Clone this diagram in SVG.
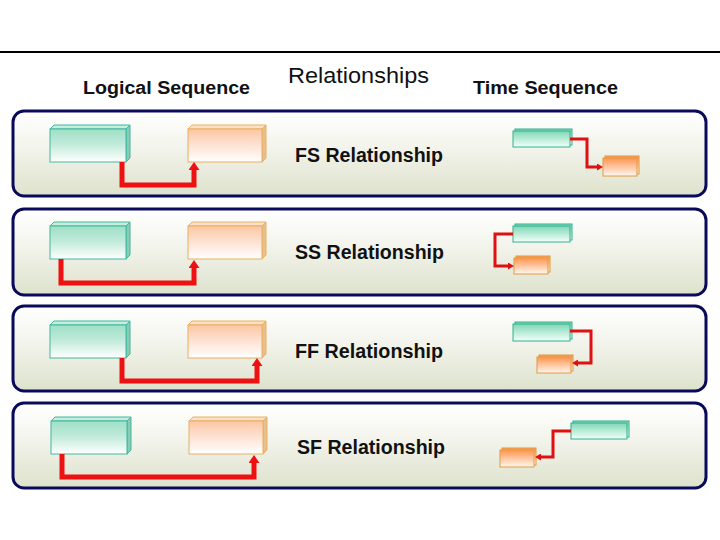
<svg xmlns="http://www.w3.org/2000/svg" width="720" height="540" viewBox="0 0 720 540">
<defs>
<linearGradient id="gPanel" x1="0" y1="0" x2="0" y2="1">
<stop offset="0" stop-color="#ffffff"/><stop offset="0.35" stop-color="#f6f6f0"/><stop offset="1" stop-color="#dde2cc"/>
</linearGradient>
<linearGradient id="gTeal" x1="0" y1="0" x2="0" y2="1">
<stop offset="0" stop-color="#9fe0c6"/><stop offset="0.45" stop-color="#bfeada"/><stop offset="1" stop-color="#ffffff"/>
</linearGradient>
<linearGradient id="gOrange" x1="0" y1="0" x2="0" y2="1">
<stop offset="0" stop-color="#fcc6a4"/><stop offset="0.45" stop-color="#fde0cf"/><stop offset="1" stop-color="#ffffff"/>
</linearGradient>
<linearGradient id="gTealS" x1="0" y1="0" x2="0" y2="1">
<stop offset="0" stop-color="#7fd8b6"/><stop offset="1" stop-color="#f4fffa"/>
</linearGradient>
<linearGradient id="gOrangeS" x1="0" y1="0" x2="0" y2="1">
<stop offset="0" stop-color="#ff9550"/><stop offset="1" stop-color="#fff8f0"/>
</linearGradient>
<marker id="arrBig" viewBox="0 0 8 11" refX="0" refY="5.5" markerWidth="8" markerHeight="11" markerUnits="userSpaceOnUse" orient="auto">
<path d="M0,0 L8,5.5 L0,11 z" fill="#ee1111"/>
</marker>
<marker id="arrSmall" viewBox="0 0 6 7" refX="0" refY="3.5" markerWidth="6" markerHeight="7" markerUnits="userSpaceOnUse" orient="auto">
<path d="M0,0 L6,3.5 L0,7 z" fill="#dd1111"/>
</marker>
</defs>
<style>
.panel{fill:url(#gPanel);stroke:#0a0a5a;stroke-width:3}
.hdr{font-family:"Liberation Sans",Arial,sans-serif;font-weight:bold;font-size:18px;fill:#111}
.rel{font-family:"Liberation Sans",Arial,sans-serif;font-size:22px;fill:#111}
.lbl{font-family:"Liberation Sans",Arial,sans-serif;font-weight:bold;font-size:20px;fill:#111}
.tF{fill:url(#gTeal);stroke:#40b8a0;stroke-width:1}
.tT{fill:#c4eedd;stroke:#40b8a0;stroke-width:1}
.tR{fill:#88ccb4;stroke:#40b8a0;stroke-width:1}
.oF{fill:url(#gOrange);stroke:#e8b060;stroke-width:1}
.oT{fill:#fde0c8;stroke:#e8b060;stroke-width:1}
.oR{fill:#e8c090;stroke:#e8b060;stroke-width:1}
.tsT{fill:url(#gTealS);stroke:#30b090;stroke-width:1}
.tsO{fill:url(#gOrangeS);stroke:#e09a40;stroke-width:1}
.big{fill:none;stroke:#ee1111;stroke-width:5;stroke-linejoin:miter;marker-end:url(#arrBig)}
.small{fill:none;stroke:#dd1111;stroke-width:3;stroke-linejoin:miter;marker-end:url(#arrSmall)}
</style>
<rect width="720" height="540" fill="#ffffff"/>
<line x1="0" y1="52" x2="720" y2="52" stroke="#000" stroke-width="2"/>

<g id="headers">
<text class="hdr" x="83" y="94" textLength="167" lengthAdjust="spacingAndGlyphs">Logical Sequence</text>
<text class="rel" x="288" y="83" textLength="141" lengthAdjust="spacingAndGlyphs">Relationships</text>
<text class="hdr" x="473" y="94" textLength="145" lengthAdjust="spacingAndGlyphs">Time Sequence</text>
</g>

<g id="panel-fs">
<rect class="panel" x="13" y="111" width="693" height="85" rx="11"/>
<text class="lbl" x="295" y="162" textLength="148" lengthAdjust="spacingAndGlyphs">FS Relationship</text>
</g>
<g id="panel-ss">
<rect class="panel" x="13" y="209" width="693" height="86" rx="11"/>
<text class="lbl" x="295" y="259" textLength="149" lengthAdjust="spacingAndGlyphs">SS Relationship</text>
</g>
<g id="panel-ff">
<rect class="panel" x="13" y="306" width="693" height="85" rx="11"/>
<text class="lbl" x="295" y="358" textLength="148" lengthAdjust="spacingAndGlyphs">FF Relationship</text>
</g>
<g id="panel-sf">
<rect class="panel" x="13" y="403" width="693" height="85" rx="11"/>
<text class="lbl" x="297" y="454" textLength="148" lengthAdjust="spacingAndGlyphs">SF Relationship</text>
</g>

<!-- logical boxes -->
<g id="fs-pred"><polygon class="tT" points="50,129 54,125 130,125 126,129"/><polygon class="tR" points="126,129 130,125 130,158 126,162"/><rect class="tF" x="50" y="129" width="76" height="33"/></g>
<g id="fs-succ"><polygon class="oT" points="188,129 192,125 266,125 262,129"/><polygon class="oR" points="262,129 266,125 266,158 262,162"/><rect class="oF" x="188" y="129" width="74" height="33"/></g>
<g id="ss-pred"><polygon class="tT" points="50,226 54,222 130,222 126,226"/><polygon class="tR" points="126,226 130,222 130,255 126,259"/><rect class="tF" x="50" y="226" width="76" height="33"/></g>
<g id="ss-succ"><polygon class="oT" points="188,226 192,222 266,222 262,226"/><polygon class="oR" points="262,226 266,222 266,255 262,259"/><rect class="oF" x="188" y="226" width="74" height="33"/></g>
<g id="ff-pred"><polygon class="tT" points="50,325 54,321 130,321 126,325"/><polygon class="tR" points="126,325 130,321 130,354 126,358"/><rect class="tF" x="50" y="325" width="76" height="33"/></g>
<g id="ff-succ"><polygon class="oT" points="188,325 192,321 266,321 262,325"/><polygon class="oR" points="262,325 266,321 266,354 262,358"/><rect class="oF" x="188" y="325" width="74" height="33"/></g>
<g id="sf-pred"><polygon class="tT" points="51,421 55,417 131,417 127,421"/><polygon class="tR" points="127,421 131,417 131,450 127,454"/><rect class="tF" x="51" y="421" width="76" height="33"/></g>
<g id="sf-succ"><polygon class="oT" points="189,421 193,417 267,417 263,421"/><polygon class="oR" points="263,421 267,417 267,450 263,454"/><rect class="oF" x="189" y="421" width="74" height="33"/></g>

<!-- time sequence bars -->
<g id="ts-fs-pred"><rect class="tsT" x="515" y="129" width="57" height="16"/><rect class="tsT" x="513" y="131" width="57" height="16"/></g>
<g id="ts-fs-succ"><rect class="tsO" x="605" y="156" width="34" height="18"/><rect class="tsO" x="603" y="158" width="34" height="18"/></g>
<g id="ts-ss-pred"><rect class="tsT" x="515" y="224" width="57" height="16"/><rect class="tsT" x="513" y="226" width="57" height="16"/></g>
<g id="ts-ss-succ"><rect class="tsO" x="516" y="256" width="34" height="16"/><rect class="tsO" x="514" y="258" width="34" height="16"/></g>
<g id="ts-ff-pred"><rect class="tsT" x="515" y="322" width="57" height="17"/><rect class="tsT" x="513" y="324" width="57" height="17"/></g>
<g id="ts-ff-succ"><rect class="tsO" x="539" y="355" width="34" height="16"/><rect class="tsO" x="537" y="357" width="34" height="16"/></g>
<g id="ts-sf-pred"><rect class="tsT" x="573" y="421" width="56" height="16"/><rect class="tsT" x="571" y="423" width="56" height="16"/></g>
<g id="ts-sf-succ"><rect class="tsO" x="502" y="448" width="34" height="17"/><rect class="tsO" x="500" y="450" width="34" height="17"/></g>

<g id="connectors">
<path class="big" d="M122,162 V185 H194 V170"/>
<path class="big" d="M61,259 V283 H194 V268"/>
<path class="big" d="M122,358 V381 H257 V366"/>
<path class="big" d="M62,454 V477 H254 V463"/>
<path class="small" d="M570,139 H587 V167 H597"/>
<path class="small" d="M513,234 H495 V266 H508"/>
<path class="small" d="M570,331 H591 V363 H578"/>
<path class="small" d="M571,431 H553 V457 H541"/>
</g>
</svg>
